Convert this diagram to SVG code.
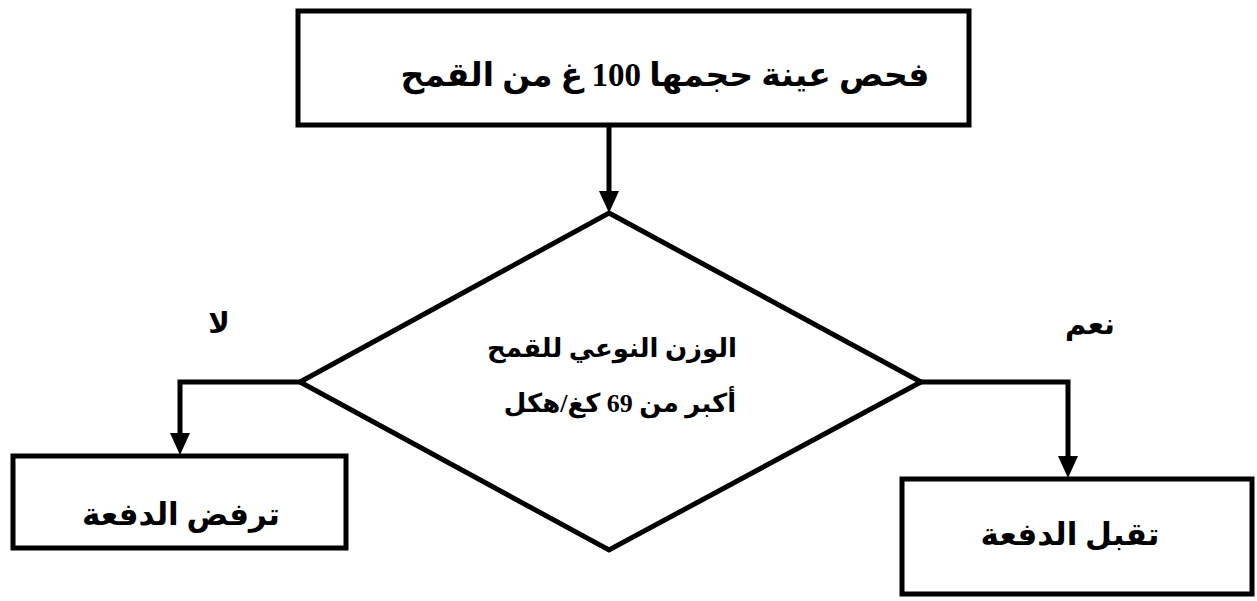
<svg xmlns="http://www.w3.org/2000/svg" width="1257" height="601" viewBox="0 0 1257 601">
<style>
.box{fill:#fff;stroke:#000;stroke-width:5}
.ln{fill:none;stroke:#000;stroke-width:5}
.t{font-family:"Liberation Serif","DejaVu Sans",serif;font-weight:bold;fill:#000;text-anchor:middle;direction:rtl}
</style>
<defs>
<marker id="ah" viewBox="0 0 22 20" markerWidth="22" markerHeight="20" refX="10" refY="10" orient="auto" markerUnits="userSpaceOnUse"><path d="M0,0 L22,10 L0,20 Z" fill="#000"/></marker>
</defs>
<g id="start">
<rect class="box" x="298" y="11" width="671" height="114"/>
<text class="t" x="665" y="86" font-size="33">فحص عينة حجمها 100 غ من القمح</text>
</g>
<g id="decision">
<polygon class="box" points="609,213 921,382 609,550 300,382" stroke-width="4.5"/>
<text class="t" x="612" y="357" font-size="26">الوزن النوعي للقمح</text>
<text class="t" x="620" y="412" font-size="26">أكبر من 69 كغ/هكل</text>
</g>
<g id="reject">
<rect class="box" x="13" y="456" width="333" height="92"/>
<text class="t" x="181" y="525" font-size="31">ترفض الدفعة</text>
</g>
<g id="accept">
<rect class="box" x="902" y="479" width="350" height="115"/>
<text class="t" x="1070" y="545" font-size="31">تقبل الدفعة</text>
</g>
<g id="connectors">
<path class="ln" d="M609,125 V201" marker-end="url(#ah)"/>
<path class="ln" d="M300,382 H180 V443" marker-end="url(#ah)"/>
<path class="ln" d="M921,382 H1068 V466" marker-end="url(#ah)"/>
<text class="t" x="219" y="333" font-size="29">لا</text>
<text class="t" x="1090" y="334" font-size="29">نعم</text>
</g>
</svg>
